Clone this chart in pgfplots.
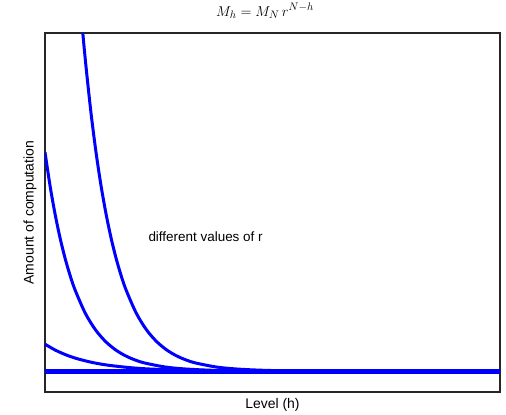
\documentclass[border=0pt]{standalone}
\usepackage{fontspec}
\setmainfont{Liberation Sans}
\usepackage{pgfplots}
\pgfplotsset{compat=1.18}

\begin{document}
\begin{tikzpicture}
\begin{axis}[
    width=455bp, height=359bp, scale only axis,
    xmin=0, xmax=455, ymin=0, ymax=359,
    xtick=\empty, ytick=\empty,
    axis line style={line width=1.8bp, black!85},
    title={$M_h = M_N\, r^{N-h}$},
    title style={at={(axis description cs:0.4835,1.045)}, anchor=center, font=\fontsize{15}{17}\selectfont},
    xlabel={Level (h)},
    xlabel style={at={(axis description cs:0.5,-0.036)}, anchor=center, font=\fontsize{14}{16}\selectfont},
    ylabel={Amount of computation},
    ylabel style={at={(axis description cs:-0.033,0.5)}, anchor=center, font=\fontsize{14}{16}\selectfont},
    every axis plot/.append style={blue, line width=3bp, no markers, line join=round},
]
% r = 1: constant level
\addplot[line width=5bp] coordinates {(0,21) (455,21)};
% small r
\addplot[smooth] coordinates {
    (0,48) (10,42.2) (20,37.7) (30,34.1) (45,30.2) (60,27.4) (80,25.0)
    (100,23.4) (130,22.2) (170,21.5) (230,21.1) (455,21)
};
% middle r
\addplot[smooth] coordinates {
    (0,240) (5,206.7) (10,178.5) (15,154.5) (20,134.2) (25,117.0) (30,102.4)
    (40,79.5) (50,63.0) (60,51.2) (70,42.7) (80,36.6) (90,32.2) (100,29.1)
    (120,25.2) (140,23.2) (170,21.8) (220,21.1) (455,21)
};
% large r
\addplot[smooth] coordinates {
    (37.8,359) (41,325.6) (46,279.2) (51,240) (56,206.7) (61,178.5) (66,154.5)
    (71,134.2) (76,117.0) (81,102.4) (91,79.5) (101,63.0) (111,51.2) (121,42.7)
    (131,36.6) (141,32.2) (151,29.1) (171,25.2) (191,23.2) (221,21.8) (271,21.1) (455,21)
};
\node[anchor=west, font=\fontsize{13.5}{15}\selectfont] at (axis cs:100,155) {different values of r};
\end{axis}
\path ([shift={(-45bp,-22bp)}]current axis.south west) rectangle ([shift={(6bp,32bp)}]current axis.north east);
\end{tikzpicture}
\end{document}
